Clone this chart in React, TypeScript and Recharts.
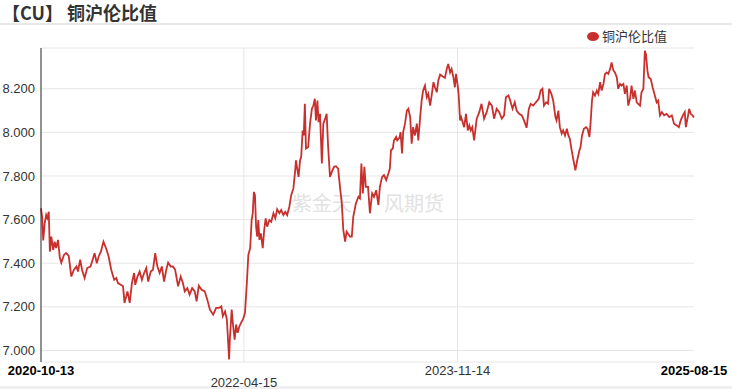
import React from 'react';
import { LineChart, Line, XAxis, YAxis, CartesianGrid, ReferenceLine } from 'recharts';

// days since 2020-10-13
const dayOffsets = [
  0, 3, 6, 10, 14, 17, 21, 24, 28, 33, 37, 41, 46, 51, 55, 62, 68, 75, 82, 89,
  96, 100, 106, 111, 118, 125, 134, 141, 145, 151, 156, 162, 169, 177, 183, 190, 198, 204, 208, 216,
  222, 226, 234, 240, 246, 252, 255, 261, 267, 273, 279, 285, 290, 297, 303, 309, 315, 321, 327, 333,
  339, 344, 351, 357, 363, 371, 378, 384, 389, 396, 402, 409, 416, 421, 427, 434, 443, 450, 457, 466,
  474, 482, 488, 492, 498, 503, 506, 509, 511, 516, 520, 524, 528, 532, 537, 542, 547, 552, 557, 561,
  566, 570, 573, 576, 579, 582, 585, 588, 591, 595, 600, 604, 608, 612, 618, 623, 629, 634, 639, 645,
  650, 656, 661, 666, 672, 677, 683, 687, 690, 694, 697, 701, 704, 708, 711, 714, 717, 723, 728, 733,
  737, 741, 744, 748, 751, 755, 760, 764, 769, 773, 777, 782, 787, 793, 798, 804, 809, 814, 818, 823,
  827, 836, 841, 845, 852, 859, 863, 867, 871, 875, 879, 885, 890, 896, 901, 907, 913, 917, 923, 928,
  934, 940, 944, 947, 952, 955, 961, 964, 970, 973, 977, 980, 985, 990, 994, 999, 1003, 1007, 1012, 1017,
  1021, 1026, 1030, 1034, 1039, 1044, 1048, 1053, 1057, 1062, 1066, 1071, 1075, 1080, 1087, 1093, 1098, 1102, 1107, 1111,
  1116, 1120, 1123, 1127, 1130, 1134, 1137, 1141, 1145, 1150, 1155, 1159, 1163, 1167, 1172, 1179, 1186, 1192, 1199, 1206,
  1213, 1220, 1226, 1233, 1240, 1247, 1253, 1258, 1265, 1271, 1276, 1282, 1287, 1294, 1301, 1307, 1314, 1320, 1325, 1332,
  1339, 1347, 1352, 1357, 1361, 1367, 1372, 1375, 1381, 1386, 1392, 1395, 1400, 1404, 1409, 1413, 1418, 1423, 1427, 1431,
  1436, 1440, 1446, 1451, 1457, 1460, 1464, 1469, 1475, 1479, 1484, 1487, 1491, 1494, 1499, 1504, 1508, 1513, 1517, 1522,
  1526, 1531, 1535, 1540, 1544, 1549, 1553, 1558, 1562, 1567, 1571, 1576, 1580, 1585, 1589, 1594, 1598, 1603, 1607, 1612,
  1616, 1621, 1625, 1630, 1634, 1637, 1641, 1644, 1650, 1655, 1661, 1666, 1670, 1675, 1680, 1686, 1693, 1700, 1707, 1713,
  1720, 1726, 1731, 1737, 1742, 1745, 1751, 1754, 1758, 1763, 1767,
];

const ratios = [
  7.652, 7.613, 7.504, 7.584, 7.621, 7.607, 7.636, 7.453, 7.522, 7.461, 7.499, 7.470, 7.507, 7.425, 7.402, 7.438, 7.447, 7.434, 7.339, 7.370,
  7.385, 7.362, 7.416, 7.370, 7.332, 7.378, 7.385, 7.423, 7.446, 7.400, 7.431, 7.453, 7.499, 7.464, 7.431, 7.370, 7.324, 7.332, 7.309, 7.301,
  7.294, 7.218, 7.271, 7.218, 7.309, 7.355, 7.301, 7.339, 7.362, 7.324, 7.355, 7.378, 7.316, 7.362, 7.370, 7.446, 7.385, 7.355, 7.385, 7.316,
  7.370, 7.403, 7.385, 7.385, 7.370, 7.294, 7.339, 7.309, 7.271, 7.286, 7.256, 7.286, 7.271, 7.225, 7.297, 7.279, 7.271, 7.233, 7.187, 7.164,
  7.195, 7.195, 7.202, 7.157, 7.179, 7.142, 7.050, 6.959, 7.050, 7.187, 7.111, 7.050, 7.119, 7.081, 7.111, 7.129, 7.145, 7.172, 7.309, 7.438,
  7.469, 7.598, 7.629, 7.727, 7.712, 7.568, 7.522, 7.598, 7.507, 7.537, 7.469, 7.553, 7.606, 7.568, 7.598, 7.590, 7.629, 7.606, 7.647, 7.629,
  7.644, 7.621, 7.636, 7.621, 7.659, 7.712, 7.743, 7.811, 7.872, 7.826, 7.796, 7.872, 7.887, 8.009, 7.986, 8.131, 7.926, 7.933, 8.040, 8.108,
  8.123, 8.154, 8.055, 8.146, 8.047, 8.085, 7.857, 8.040, 8.063, 8.085, 7.933, 7.796, 7.819, 7.842, 7.845, 7.834, 7.750, 7.674, 7.553, 7.499,
  7.545, 7.522, 7.522, 7.613, 7.674, 7.705, 7.697, 7.857, 7.720, 7.842, 7.750, 7.750, 7.629, 7.720, 7.705, 7.735, 7.667, 7.750, 7.796, 7.804,
  7.781, 7.811, 7.834, 7.918, 7.926, 7.963, 7.979, 7.963, 7.976, 8.001, 7.903, 8.001, 8.040, 8.100, 8.108, 8.070, 7.948, 8.024, 7.986, 8.040,
  7.963, 8.070, 8.146, 8.192, 8.215, 8.161, 8.177, 8.123, 8.169, 8.230, 8.207, 8.184, 8.237, 8.265, 8.256, 8.250, 8.291, 8.314, 8.275, 8.291,
  8.253, 8.207, 8.268, 8.222, 8.177, 8.055, 8.070, 8.047, 8.024, 8.085, 8.009, 8.032, 8.009, 8.024, 7.963, 8.063, 8.093, 8.131, 8.063, 8.093,
  8.138, 8.123, 8.063, 8.108, 8.093, 8.063, 8.078, 8.161, 8.169, 8.138, 8.108, 8.138, 8.100, 8.085, 8.078, 8.055, 8.021, 8.108, 8.131, 8.123,
  8.138, 8.154, 8.192, 8.200, 8.123, 8.138, 8.131, 8.200, 8.177, 8.146, 8.070, 8.055, 8.100, 8.024, 7.994, 8.009, 7.986, 8.017, 7.986, 7.971,
  7.918, 7.880, 7.826, 7.872, 7.918, 7.933, 7.986, 8.017, 8.024, 8.017, 7.979, 8.040, 8.146, 8.184, 8.169, 8.192, 8.177, 8.230, 8.192, 8.222,
  8.268, 8.275, 8.268, 8.291, 8.321, 8.283, 8.275, 8.253, 8.200, 8.222, 8.215, 8.222, 8.177, 8.215, 8.123, 8.154, 8.215, 8.154, 8.192, 8.138,
  8.131, 8.123, 8.184, 8.200, 8.374, 8.359, 8.283, 8.253, 8.245, 8.207, 8.169, 8.138, 8.146, 8.078, 8.093, 8.078, 8.085, 8.070, 8.078, 8.040,
  8.032, 8.024, 8.055, 8.078, 8.093, 8.024, 8.078, 8.108, 8.085, 8.078, 8.068,
];

const tickDays = [0, 549, 1127, 1767];
const tickLabels = ['2020-10-13', '2022-04-15', '2023-11-14', '2025-08-15'];
const yTicks = [7.0, 7.2, 7.4, 7.6, 7.8, 8.0, 8.2];
const seriesName = '铜沪伦比值';
const titleText = '【CU】 铜沪伦比值';
const watermarkParts = ['紫金天', '风期货'];

const data = dayOffsets.map((d, i) => ({ day: d, ratio: ratios[i] }));

const RED = '#c8302e';
const NUM_FONT = '"Liberation Sans", Arial, sans-serif';
const CJK_FONT = '"Noto Sans CJK SC", "Noto Sans", sans-serif';

const XTick = (props: any) => {
  const { x, y, payload } = props;
  const i = tickDays.indexOf(payload.value);
  const bold = i === 0 || i === tickDays.length - 1;
  const second = i === 1;
  return (
    <text
      x={x}
      y={y}
      dy={second ? 25 : 13}
      textAnchor="middle"
      fontFamily={NUM_FONT}
      fontSize={13}
      fontWeight={bold ? 700 : 400}
      fill={bold ? '#000' : '#333'}
    >
      {tickLabels[i]}
    </text>
  );
};

export default function App() {
  return (
    <div style={{ position: 'absolute', left: 0, top: 0, width: 732, height: 389, background: '#fff', overflow: 'hidden' }}>
      <div
        style={{
          position: 'absolute', left: 2, top: 0, fontFamily: CJK_FONT, fontWeight: 700,
          fontSize: 18, color: '#333', lineHeight: '24px', whiteSpace: 'pre',
        }}
      >
        {titleText}
      </div>
      <div style={{ position: 'absolute', left: 0, top: 23, width: 732, height: 2, background: '#e8e8e8' }} />
      <div style={{ position: 'absolute', left: 0, top: 386, width: 732, height: 3, background: '#f0f0f0' }} />
      <div
        style={{
          position: 'absolute', left: 292, top: 190, fontFamily: CJK_FONT, fontSize: 20,
          color: '#e2e2e2', lineHeight: '26px', whiteSpace: 'pre',
        }}
      >
        {watermarkParts[0]}
      </div>
      <div
        style={{
          position: 'absolute', left: 384, top: 190, fontFamily: CJK_FONT, fontSize: 20,
          color: '#e2e2e2', lineHeight: '26px', whiteSpace: 'pre',
        }}
      >
        {watermarkParts[1]}
      </div>
      <div style={{ position: 'absolute', left: 587, top: 31.5, width: 12, height: 9, borderRadius: '50%', background: RED }} />
      <div
        style={{
          position: 'absolute', left: 602, top: 27, fontFamily: CJK_FONT, fontSize: 13,
          color: '#333', lineHeight: '18px', whiteSpace: 'pre',
        }}
      >
        {seriesName}
      </div>
      <div style={{ position: 'absolute', left: 0, top: 0 }}>
        <LineChart width={732} height={389} data={data} margin={{ top: 48, right: 38, bottom: 0, left: 0 }}>
          <CartesianGrid vertical={false} stroke="#e6e6e6" />
          <ReferenceLine x={tickDays[1]} stroke="#e6e6e6" />
          <ReferenceLine x={tickDays[2]} stroke="#e6e6e6" />
          <XAxis
            dataKey="day"
            type="number"
            domain={[tickDays[0], tickDays[tickDays.length - 1]]}
            ticks={tickDays}
            interval={0}
            height={27}
            axisLine={false}
            tickLine={false}
            tickSize={0}
            tickMargin={0}
            tick={(p: any) => <XTick {...p} />}
          />
          <YAxis
            type="number"
            domain={[6.947, 8.387]}
            ticks={yTicks}
            allowDataOverflow
            width={41}
            axisLine={{ stroke: '#222' }}
            tickLine={false}
            tickSize={4}
            tickMargin={2}
            tickFormatter={(v: number) => v.toFixed(3)}
            tick={{ fontSize: 13, fill: '#333', fontFamily: NUM_FONT }}
          />
          <Line
            type="linear"
            dataKey="ratio"
            name={seriesName}
            stroke={RED}
            strokeWidth={1.8}
            dot={false}
            isAnimationActive={false}
          />
        </LineChart>
      </div>
    </div>
  );
}
